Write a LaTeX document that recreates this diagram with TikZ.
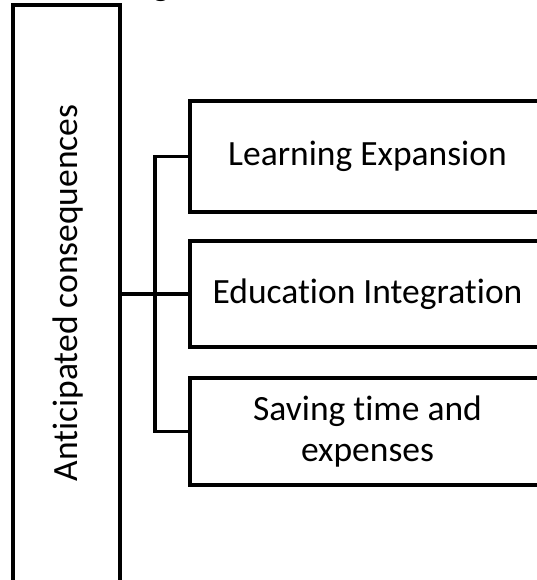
\documentclass[tikz,border=0pt]{standalone}
\usepackage{fontspec}
\setmainfont{Carlito}[RawFeature=-liga]
\begin{document}
\begin{tikzpicture}[x=1pt,y=-1pt,
  boxline/.style={draw=black, line width=3.6pt, outer sep=0pt, inner sep=0pt},
  catbox/.style={boxline, minimum width=355pt},
  lbl/.style={font=\fontsize{35.5}{41}\selectfont, align=center},
  conn/.style={draw=black, line width=3.6pt}]
\useasboundingbox (0,0) rectangle (536,580);
% fragment of text above the picture
\node[lbl, anchor=base, inner sep=0pt] (frag) at (161,-4.5) {g};
% left box
\node[boxline, minimum width=107pt, minimum height=579pt] (lbox) at (66.5,294.5) {};
\node[lbl, rotate=90, inner sep=0pt] (ltext) at (68.5,293) {Anticipated consequences};
% right boxes
\node[catbox, minimum height=111pt, lbl] (b1) at (367.5,156.5) {Learning Expansion};
\node[catbox, minimum height=106pt, lbl] (b2) at (367.5,294) {Education Integration};
\node[catbox, minimum height=107pt, lbl] (b3) at (367.5,431.5) {Saving time and\\expenses};
% connectors
\coordinate (trunk) at (155,294);
\draw[conn] (lbox.east |- b2.west) -- (b2.west);
\draw[conn] (b1.west) -| (trunk) |- (b3.west);
\end{tikzpicture}
\end{document}
